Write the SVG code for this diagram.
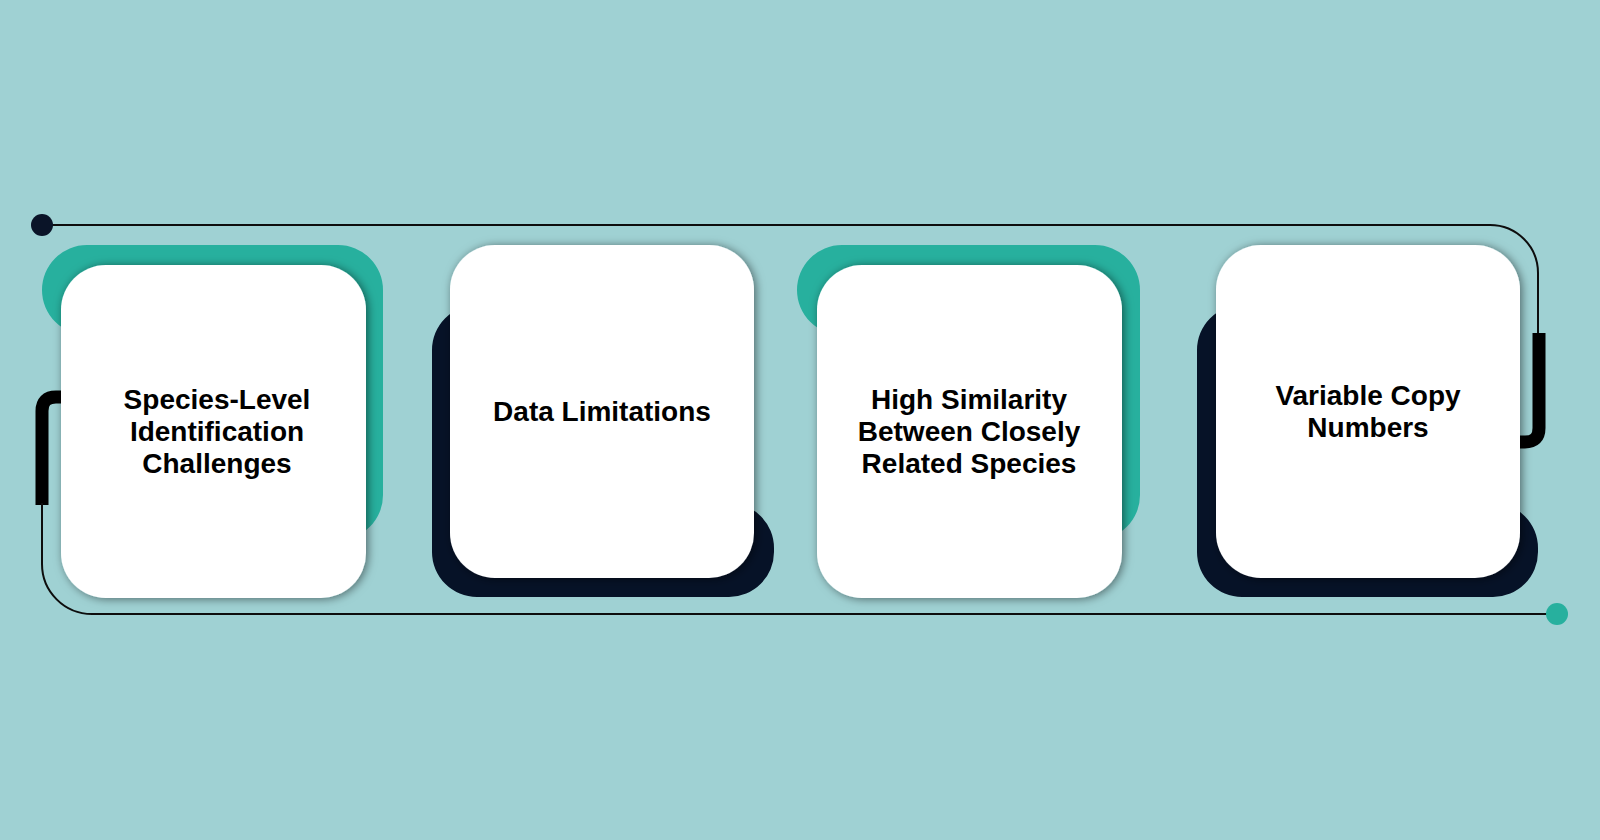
<svg xmlns="http://www.w3.org/2000/svg" width="1600" height="840" viewBox="0 0 1600 840">
  <defs>
    <filter id="sh" x="-20%" y="-20%" width="140%" height="140%">
      <feDropShadow dx="2" dy="1" stdDeviation="5" flood-color="#000" flood-opacity="0.5"/>
    </filter>
  </defs>
  <style>
    .bg { fill: #9fd1d3; }
    .green { fill: #27b09e; }
    .navy { fill: #061227; }
    .card { fill: #ffffff; filter: url(#sh); }
    .thin { fill: none; stroke: #0d0d0d; stroke-width: 2; }
    .thick { fill: none; stroke: #000000; stroke-width: 13; }
    .lbl { font-family: "Liberation Sans", Arial, sans-serif; font-weight: bold; font-size: 28px; fill: #000; text-anchor: middle; }
  </style>
  <rect class="bg" x="0" y="0" width="1600" height="840"/>

  <g id="connectors">
    <path class="thin" d="M 42 225 H 1490 A 48 48 0 0 1 1538 273 V 335"/>
    <path class="thick" d="M 1539 333 V 428 Q 1539 442 1525 442 H 1512"/>
    <path class="thick" d="M 68 397 H 56 Q 42 397 42 411 V 505"/>
    <path class="thin" d="M 42 503 V 564 A 50 50 0 0 0 92 614 H 1557"/>
    <circle cx="42" cy="225" r="11" fill="#0a1428"/>
    <circle cx="1557" cy="614" r="11" fill="#27b09e"/>
  </g>

  <g id="node1">
    <path class="green" d="M 42 290 A 45 45 0 0 1 87 245 H 338 A 45 45 0 0 1 383 290 V 495 A 45 45 0 0 1 338 540 H 120 V 335 H 87 A 45 45 0 0 1 42 290 Z"/>
    <rect class="card" x="61" y="265" width="305" height="333" rx="45"/>
    <text class="lbl" x="217" y="409">Species-Level</text>
    <text class="lbl" x="217" y="441">Identification</text>
    <text class="lbl" x="217" y="473">Challenges</text>
  </g>

  <g id="node2">
    <path class="navy" d="M 432 350 A 45 45 0 0 1 477 305 H 700 V 503 H 729 A 45 45 0 0 1 774 548 V 552 A 45 45 0 0 1 729 597 H 477 A 45 45 0 0 1 432 552 Z"/>
    <rect class="card" x="450" y="245" width="304" height="333" rx="45"/>
    <text class="lbl" x="602" y="421">Data Limitations</text>
  </g>

  <g id="node3">
    <path class="green" d="M 797 290 A 45 45 0 0 1 842 245 H 1095 A 45 45 0 0 1 1140 290 V 495 A 45 45 0 0 1 1095 540 H 876 V 335 H 842 A 45 45 0 0 1 797 290 Z"/>
    <rect class="card" x="817" y="265" width="305" height="333" rx="45"/>
    <text class="lbl" x="969" y="409">High Similarity</text>
    <text class="lbl" x="969" y="441">Between Closely</text>
    <text class="lbl" x="969" y="473">Related Species</text>
  </g>

  <g id="node4">
    <path class="navy" d="M 1197 350 A 45 45 0 0 1 1242 305 H 1465 V 503 H 1493 A 45 45 0 0 1 1538 548 V 552 A 45 45 0 0 1 1493 597 H 1242 A 45 45 0 0 1 1197 552 Z"/>
    <rect class="card" x="1216" y="245" width="304" height="333" rx="45"/>
    <text class="lbl" x="1368" y="405">Variable Copy</text>
    <text class="lbl" x="1368" y="437">Numbers</text>
  </g>
</svg>
